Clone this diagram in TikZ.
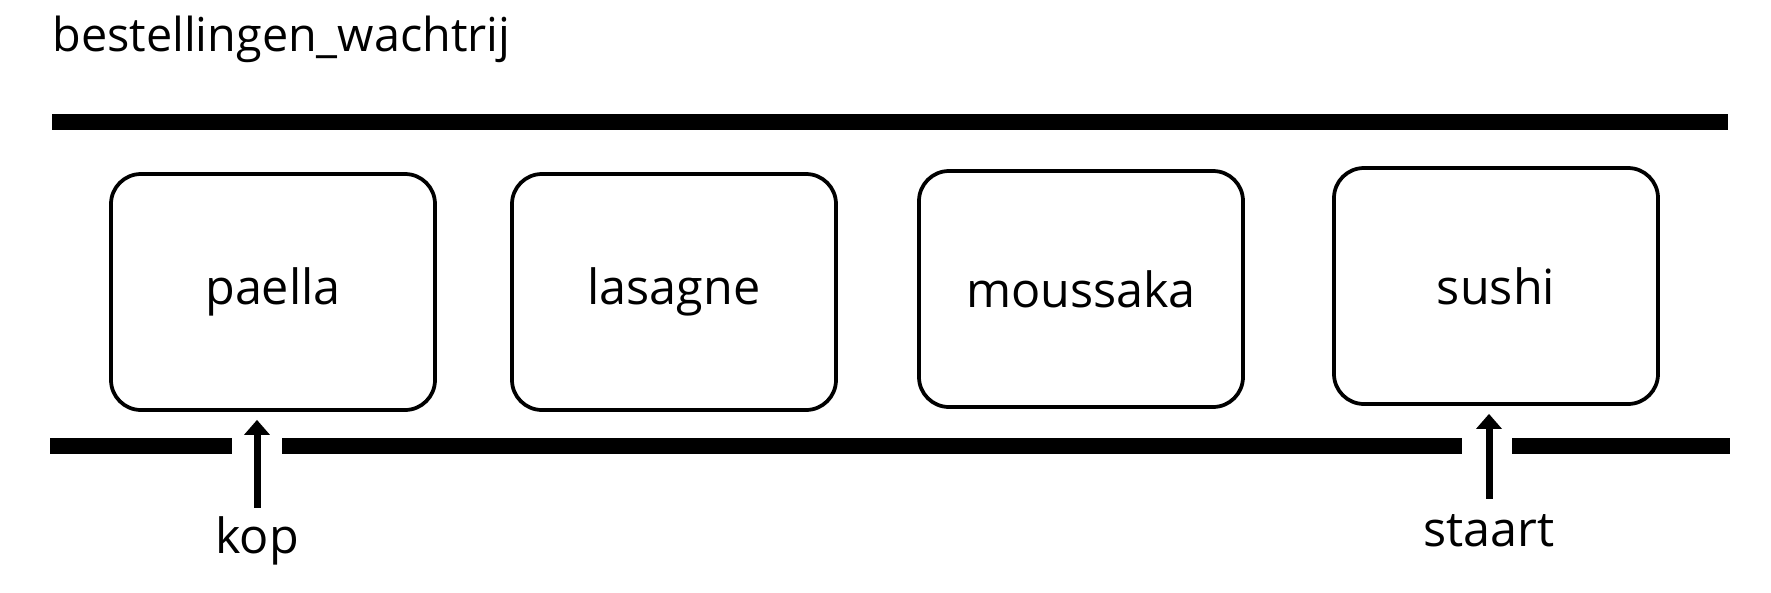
\documentclass[tikz,border=0pt]{standalone}
\usepackage{fontspec}
\setmainfont{Open Sans}
\usetikzlibrary{arrows.meta}

\begin{document}
\begin{tikzpicture}[x=0.2mm,y=-0.2mm,
		dish/.style={draw,line width=0.75mm,rounded corners=6mm,minimum width=64.8mm,minimum height=47.2mm,inner sep=0},
		wall/.style={line width=3.1mm},
		pointer/.style={line width=1.4mm,-{Triangle[length=3mm,width=5mm]},shorten >=1.6mm,shorten <=1.6mm}]
		\useasboundingbox (0,0) rectangle (1771,592);
		\fontsize{27.6}{33}\selectfont
		\node[anchor=base west,inner sep=0,font=\fontsize{26.6}{32}\selectfont](titel) at (52,51) {bestellingen\_wachtrij};
		\draw[wall] (52,122) -- (1728,122);
		\draw[wall] (50,446) -- (232,446);
		\draw[wall] (282,446) -- (1462,446);
		\draw[wall] (1512,446) -- (1730,446);
		\node[dish](paella) at (273,292) {paella};
		\node[dish](lasagne) at (674,292) {lasagne};
		\node[dish](moussaka) at (1081,289) {moussaka};
		\node[dish](sushi) at (1496,286) {sushi};
		\node[anchor=base,inner sep=0](kop) at (257,553) {kop};
		\node[anchor=base,inner sep=0](staart) at (1489,546) {staart};
		\draw[pointer] (kop.north) -- (kop.north |- paella.south);
		\draw[pointer,shorten <=3mm] (staart.north) -- (staart.north |- sushi.south);
	\end{tikzpicture}
\end{document}
